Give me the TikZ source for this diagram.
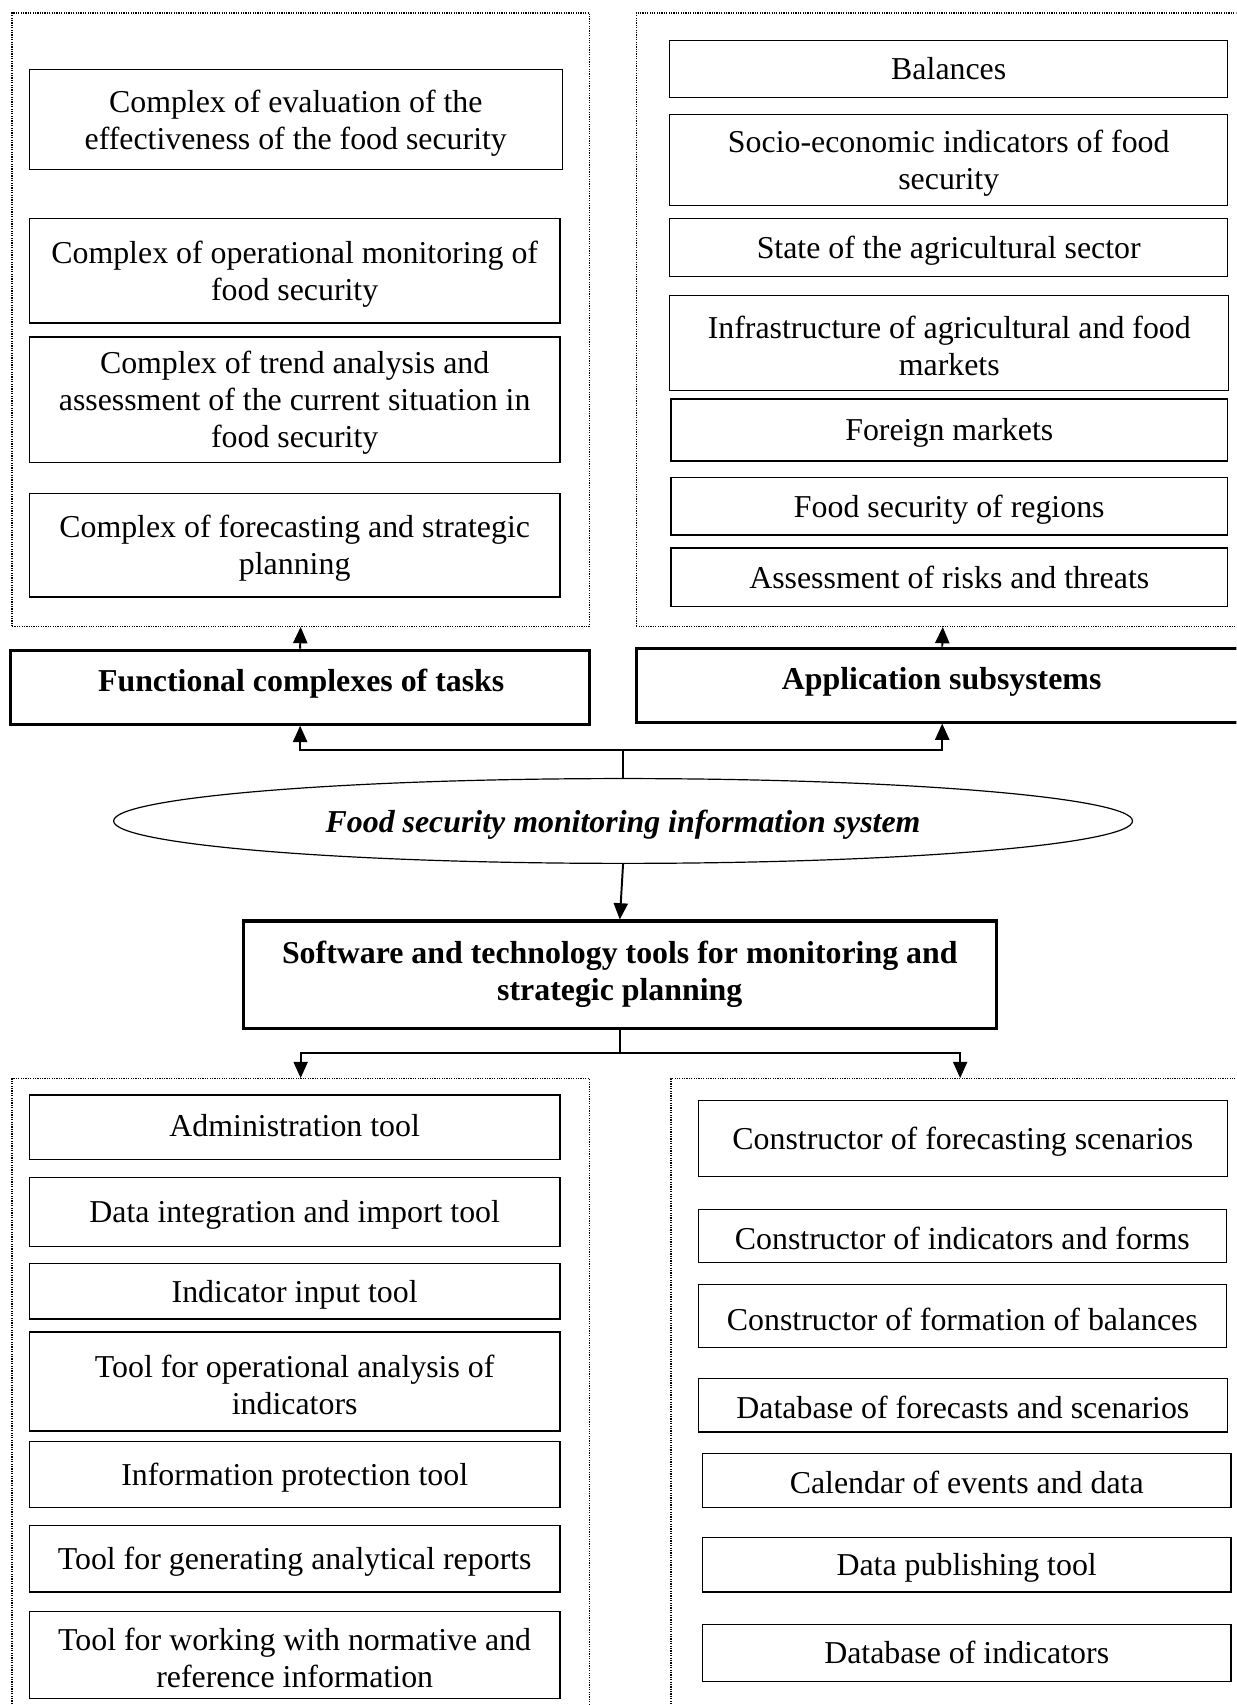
\documentclass[tikz,border=0pt]{standalone}
\usepackage{fontspec}
\setmainfont{Liberation Serif}
\usetikzlibrary{arrows.meta,shapes.geometric}
\newcommand\bodyfont{\fontsize{29.3}{34}\selectfont}
% \rect[style]{name}{x1}{y1}{x2}{y2}: an empty rectangle given by its corners
\newcommand\rect[6][box]{%
  \pgfmathsetmacro\bxcx{(#3+#5)/2}%
  \pgfmathsetmacro\bxcy{(#4+#6)/2}%
  \pgfmathsetmacro\bxw{#5-#3}%
  \pgfmathsetmacro\bxh{#6-#4}%
  \node[#1, minimum width=\bxw pt, minimum height=\bxh pt] (#2) at (\bxcx,\bxcy) {};}
% \bx[drop]{name}{x1}{y1}{x2}{y2}{text}: a framed box, its text lowered by drop
\newcommand\bx[7][3]{%
  \rect{#2}{#3}{#4}{#5}{#6}%
  \node[boxtext] (#2-t) at (\bxcx,\bxcy+#1) {#7};}
\begin{document}
\begin{tikzpicture}[x=1pt,y=-1pt,
  every node/.style={font=\bodyfont},
  box/.style={draw, line width=1.1pt, inner sep=0pt},
  boxtext/.style={align=center, inner sep=0pt},
  headbox/.style={draw, line width=2.8pt, inner sep=0pt},
  headtext/.style={align=center, inner sep=0pt, font=\bodyfont\bfseries},
  frame/.style={draw, line width=1.1pt, dash pattern=on 1.1pt off 1.1pt, inner sep=0pt},
  link/.style={line width=1.8pt},
  arr/.style={link, -{Triangle[length=15pt,width=13pt]}}
]
\useasboundingbox (0,0) rectangle (1137,1568);
\clip (0,0) rectangle (1137,1568);

% functional complexes of tasks
\rect[frame]{tlf}{11}{12}{542}{576}
\bx{c1}{27}{64}{517}{156}{Complex of evaluation of the\\effectiveness of the food security}
\bx{c2}{27}{201}{515}{297}{Complex of operational monitoring of\\food security}
\bx{c3}{27}{310}{515}{425}{Complex of trend analysis and\\assessment of the current situation in\\food security}
\bx{c4}{27}{454}{515}{549}{Complex of forecasting and strategic\\planning}

% application subsystems
\rect[frame]{trf}{585}{12}{1149}{576}
\bx[0]{a1}{616}{37}{1129}{90}{Balances}
\bx{a2}{616}{105}{1129}{189}{Socio-economic indicators of food\\security}
\bx{a3}{616}{201}{1129}{254}{State of the agricultural sector}
\bx{a4}{616}{272}{1130}{359}{Infrastructure of agricultural and food\\markets}
\bx{a5}{617}{367}{1129}{424}{Foreign markets}
\bx{a6}{617}{439}{1129}{492}{Food security of regions}
\bx[0]{a7}{617}{504}{1129}{558}{Assessment of risks and threats}

% headings
\rect[headbox]{fct}{10}{598}{542}{666}
\node[headtext] (fct-t) at (277,629) {Functional complexes of tasks};
\rect[headbox]{app}{585}{596}{1148}{664}
\node[headtext] (app-t) at (866,627) {Application subsystems};

% the information system
\node[ellipse, draw, line width=1.1pt, minimum width=937pt, minimum height=78pt,
      inner sep=0pt] (ell) at (573,755) {};
\node[headtext, font=\bodyfont\bfseries\itshape] (ell-t) at (573,758)
      {Food security monitoring information system};

\rect[headbox]{sw}{224}{847}{916}{946}
\node[headtext] (sw-t) at (570,896)
      {Software and technology tools for monitoring and\\strategic planning};

% tools
\rect[frame]{blf}{11}{992}{542}{1600}
\bx[-1]{t1}{27}{1007}{515}{1066}{Administration tool}
\bx{t2}{27}{1083}{515}{1146}{Data integration and import tool}
\bx{t3}{27}{1162}{515}{1213}{Indicator input tool}
\bx{t4}{27}{1225}{515}{1316}{Tool for operational analysis of\\indicators}
\bx{t5}{27}{1326}{515}{1386}{Information protection tool}
\bx{t6}{27}{1403}{515}{1464}{Tool for generating analytical reports}
\bx{t7}{27}{1482}{515}{1562}{Tool for working with normative and\\reference information}

% constructors and databases
\rect[frame]{brf}{617}{992}{1149}{1600}
\bx{d1}{642}{1012}{1129}{1082}{Constructor of forecasting scenarios}
\bx[2]{d2}{642}{1112}{1128}{1161}{Constructor of indicators and forms}
\bx{d3}{642}{1181}{1128}{1239}{Constructor of formation of balances}
\bx[2]{d4}{642}{1268}{1129}{1317}{Database of forecasts and scenarios}
\bx[2]{d5}{646}{1337}{1132}{1386}{Calendar of events and data}
\bx{d6}{646}{1414}{1132}{1464}{Data publishing tool}
\bx[0]{d7}{646}{1494}{1132}{1546}{Database of indicators}

% connectors
\draw[arr] (fct.north) -- (tlf.south);
\draw[arr] (app.north) -- (trf.south);
\coordinate (up) at (ell.north |- 0,690);
\draw[link] (ell.north) -- (up);
\draw[arr] (up) -| (fct.south);
\draw[arr] (up) -| (app.south);
\draw[arr] (ell.south) -- (sw.north);
\coordinate (down) at (sw.south |- 0,968);
\draw[link] (sw.south) -- (down);
\draw[arr] (down) -| (blf.north);
\draw[arr] (down) -| (brf.north);
\end{tikzpicture}
\end{document}
